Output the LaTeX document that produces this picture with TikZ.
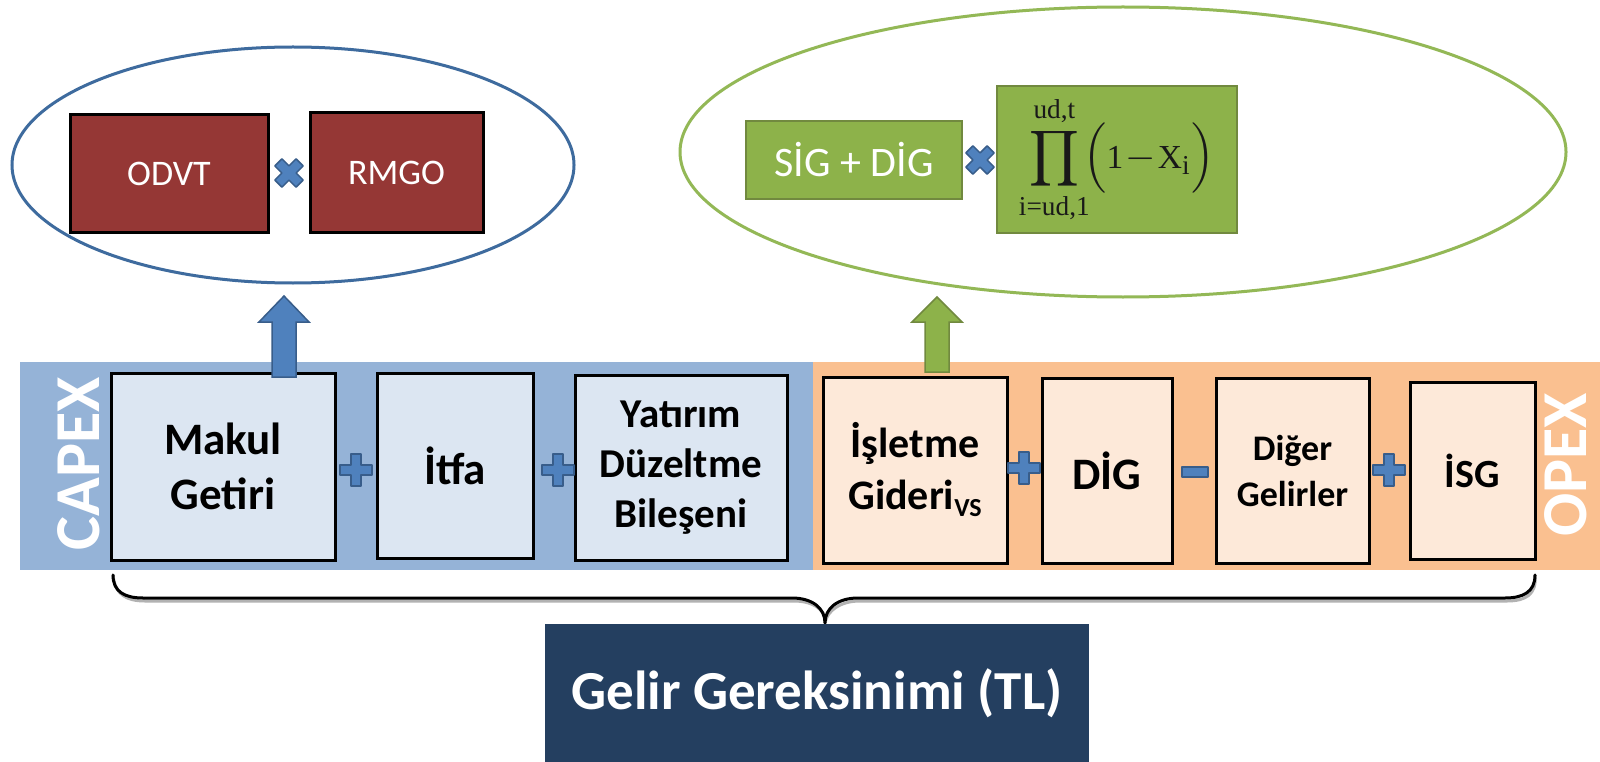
\documentclass[tikz,border=0pt]{standalone}
\usepackage{fontspec}
\setmainfont{Carlito}
\newfontfamily\tmsfont{Liberation Serif}
\usepackage{amsmath}
\usepackage{graphicx}
\usetikzlibrary{calc,shapes.geometric}
\definecolor{bandblue}{HTML}{95B3D7}
\definecolor{bandorange}{HTML}{FAC090}
\definecolor{capin}{HTML}{DCE6F2}
\definecolor{opin}{HTML}{FDE9D9}
\definecolor{ellblue}{HTML}{3E6B9E}
\definecolor{boxred}{HTML}{953735}
\definecolor{ellgreen}{HTML}{93B856}
\definecolor{grnfill}{HTML}{8DB24A}
\definecolor{grnedge}{HTML}{71893F}
\definecolor{signfill}{HTML}{4F81BD}
\definecolor{signedge}{HTML}{385D8A}
\definecolor{gelirc}{HTML}{243F60}
\newcommand{\tmsx}[1]{\text{\tmsfont #1}}
\newcommand{\tmsy}[1]{\text{\fontsize{8.6}{9}\selectfont\tmsfont #1}}
\tikzset{
  bandbox/.style={inner sep=0pt, outer sep=0pt, draw=none},
  capbox/.style={draw=black, line width=3pt, fill=capin, align=center, inner sep=0pt, text=black},
  opbox/.style={draw=black, line width=3pt, fill=opin, align=center, inner sep=0pt, text=black},
  redbox/.style={draw=black, line width=3pt, fill=boxred, text=white, inner sep=0pt, font=\fontsize{36}{40}\selectfont},
  grnbox/.style={draw=grnedge, line width=2.5pt, fill=grnfill, text=white, inner sep=0pt, font=\fontsize{42}{46}\selectfont},
  ellbox/.style={ellipse, line width=3pt, inner sep=0pt, fill=none},
  signstyle/.style={fill=signfill, draw=signedge, line width=1.5pt, line join=round},
  plussign/.pic={\path[signstyle] (5,16)--(5,5)--(16,5)--(16,-5)--(5,-5)--(5,-16)--(-5,-16)--(-5,-5)--(-16,-5)--(-16,5)--(-5,5)--(-5,16)--cycle;},
  xsign/.pic={\path[signstyle,rotate=45] (5,15)--(5,5)--(15,5)--(15,-5)--(5,-5)--(5,-15)--(-5,-15)--(-5,-5)--(-15,-5)--(-15,5)--(-5,5)--(-5,15)--cycle;},
  minussign/.pic={\path[signstyle] (-13,-5) rectangle (13,5);},
  barrow/.style={fill=signfill, draw=signedge, line width=1.5pt, line join=miter},
  garrow/.style={fill=grnfill, draw=grnedge, line width=1.5pt, line join=miter},
  bandlabel/.style={rotate=90, text=white, font=\fontsize{64}{70}\selectfont\bfseries, inner sep=0pt},
  bracepath/.style={line width=3pt, line cap=round, line join=round}
}
\begin{document}
\begin{tikzpicture}[x=1pt,y=-1pt]
\useasboundingbox[fill=white] (0,0) rectangle (1600,762);
% bands
\node[bandbox, fill=bandblue, minimum width=793pt, minimum height=208pt] (capex) at (416.5,466) {};
\node[bandbox, fill=bandorange, minimum width=787pt, minimum height=208pt] (opex) at (1206.5,466) {};
\node[bandlabel] (capexl) at (79,464) {CAPEX};
\node[bandlabel] (opexl) at (1566,465) {OPEX};
% CAPEX boxes
\node[capbox, minimum width=224pt, minimum height=187pt, font=\fontsize{45}{55}\selectfont\bfseries] (makul) at (223,466.5) {Makul\\Getiri};
\node[capbox, minimum width=156pt, minimum height=185pt, font=\fontsize{45}{55}\selectfont\bfseries] (itfa) at (455,465.5) {İtfa};
\node[capbox, minimum width=212pt, minimum height=185pt, font=\fontsize{41}{50}\selectfont\bfseries] (yatirim) at (681,467.5) {Yatırım\\Düzeltme\\Bileşeni};
% OPEX boxes
\node[opbox, minimum width=184pt, minimum height=186pt, font=\fontsize{42}{52}\selectfont\bfseries] (isletme) at (915,470) {İşletme\\Gideri\raisebox{-7pt}{\fontsize{26}{26}\selectfont VS}};
\node[opbox, minimum width=130pt, minimum height=185pt, font=\fontsize{45}{52}\selectfont\bfseries] (dig) at (1107,470.5) {DİG};
\node[opbox, minimum width=153pt, minimum height=185pt, font=\fontsize{36}{46}\selectfont\bfseries] (diger) at (1292.5,470.5) {Diğer\\Gelirler};
\node[opbox, minimum width=125pt, minimum height=177pt, font=\fontsize{40}{48}\selectfont\bfseries] (isg) at (1472.5,470.5) {İSG};
% operators
\pic at (356,470) {plussign};
\pic at (558,470) {plussign};
\pic at (1024,468) {plussign};
\pic at (1195,472) {minussign};
\pic at (1389,470) {plussign};
% ellipses
\node[ellbox, draw=ellblue, minimum width=562pt, minimum height=236pt] (ellA) at (293,165) {};
\node[ellbox, draw=ellgreen, minimum width=886pt, minimum height=290pt] (ellB) at (1123,152) {};
\node[redbox, minimum width=198pt, minimum height=117pt] (odvt) at (169,173.5) {ODVT};
\node[redbox, minimum width=173pt, minimum height=119pt] (rmgo) at (396.5,172.5) {RMGO};
\pic at (289,173) {xsign};
\node[grnbox, minimum width=216pt, minimum height=78pt] (sig) at (854,160) {SİG + DİG};
\node[grnbox, minimum width=240pt, minimum height=147pt, text=black!90, font=\fontsize{10}{12}\selectfont] (prod) at (1117,159.5) {\scalebox{3.9}{$\displaystyle\prod_{\tmsx{i=ud,1}}^{\tmsx{ud,t}}\!\Bigl(\tmsy{1}\!-\!\tmsy{X}_{\tmsx{i}}\Bigr)$}};
\pic at (980,160) {xsign};
% arrows
\coordinate (a1b) at (284,377);
\coordinate (a1t) at (284,296);
\draw[barrow] (a1b) ++(-12,0) -- ++(0,-55) -- ++(-13,0) -- (a1t) -- ++(25,26) -- ++(-13,0) -- ++(0,55) -- cycle;
\coordinate (a2b) at (937,372);
\coordinate (a2t) at (937,297);
\draw[garrow] (a2b) ++(-12,0) -- ++(0,-50) -- ++(-13,0) -- (a2t) -- ++(25,25) -- ++(-13,0) -- ++(0,50) -- cycle;
% brace
\coordinate (brL) at (113,575);
\coordinate (brR) at (1535,575);
\coordinate (brT) at (825,623);
\begin{scope}[shift={(2,3)}]
\draw[bracepath, black!30] (brL) .. controls (113,592) and (125,598) .. (143,598) -- (792,598) .. controls (812,598) and (825,608) .. (brT) .. controls (825,608) and (838,598) .. (858,598) -- (1505,598) .. controls (1523,598) and (1535,592) .. (brR);
\end{scope}
\draw[bracepath, black] (brL) .. controls (113,592) and (125,598) .. (143,598) -- (792,598) .. controls (812,598) and (825,608) .. (brT) .. controls (825,608) and (838,598) .. (858,598) -- (1505,598) .. controls (1523,598) and (1535,592) .. (brR);
% result
\node[fill=gelirc, minimum width=544pt, minimum height=138pt, inner sep=0pt, text=white, font=\fontsize{55}{60}\selectfont\bfseries] (gelir) at (817,693) {Gelir Gereksinimi (TL)};
\end{tikzpicture}
\end{document}
